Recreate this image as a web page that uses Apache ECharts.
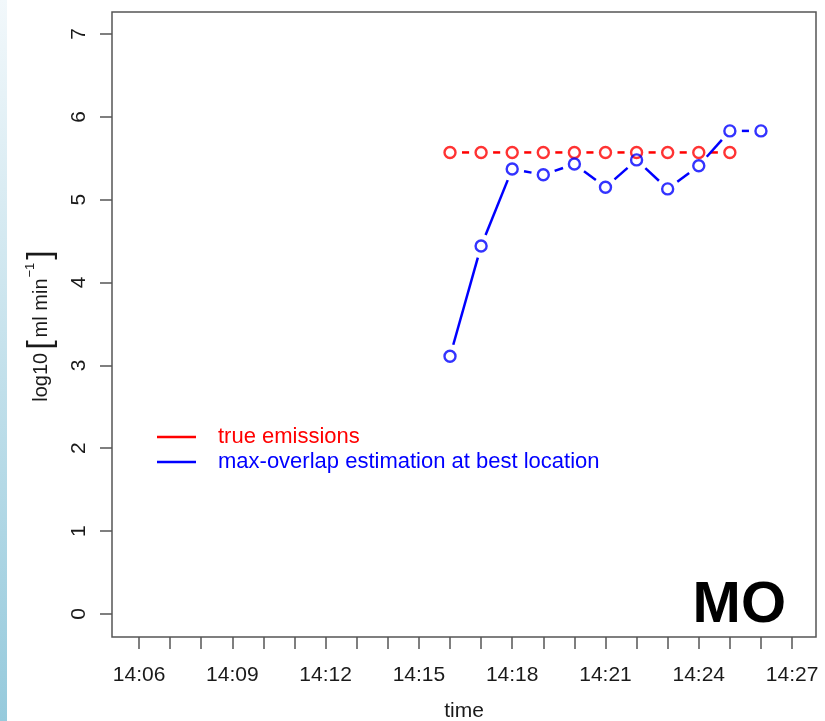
<!DOCTYPE html>
<html>
<head>
<meta charset="utf-8" />
<title>MO emissions</title>
<style>
html, body { margin: 0; padding: 0; background: #fff; }
#chart { width: 825px; height: 721px; }
</style>
</head>
<body>
<div id="chart"></div>
<script src="https://cdn.jsdelivr.net/npm/echarts@6/dist/echarts.min.js"></script>
<script>
// values (log10 ml/min)
var trueTimes = ['14:16','14:17','14:18','14:19','14:20','14:21','14:22','14:23','14:24','14:25'];
var trueValues = [5.57, 5.57, 5.57, 5.57, 5.57, 5.57, 5.57, 5.57, 5.57, 5.57];

var estTimes = ['14:16','14:17','14:18','14:19','14:20','14:21','14:22','14:23','14:24','14:25','14:26'];
var estValues = [3.11, 4.44, 5.37, 5.30, 5.43, 5.15, 5.48, 5.13, 5.41, 5.83, 5.83];

var xTicks = [6,7,8,9,10,11,12,13,14,15,16,17,18,19,20,21,22,23,24,25,26,27];
var xLabels = [6,9,12,15,18,21,24,27];
var yTicks = [0,1,2,3,4,5,6,7];

var FONT = '"Liberation Sans", Arial, sans-serif';

// minutes after 14:00
function toMin(s) {
  var p = s.split(':');
  return (+p[0] - 14) * 60 + (+p[1]);
}
function pts(times, vals) {
  return times.map(function (t, i) { return [toMin(t), vals[i]]; });
}
// segments between consecutive points (R type="b" look)
function segs(times, vals) {
  var out = [];
  for (var i = 0; i < times.length - 1; i++) {
    out.push([toMin(times[i]), vals[i], toMin(times[i + 1]), vals[i + 1]]);
  }
  return out;
}

function gapLine(color) {
  return function (params, api) {
    var a = api.coord([api.value(0), api.value(1)]);
    var b = api.coord([api.value(2), api.value(3)]);
    var dx = b[0] - a[0], dy = b[1] - a[1];
    var len = Math.sqrt(dx * dx + dy * dy);
    var gap = 12;
    if (len <= gap * 2) return null;
    var ux = dx / len, uy = dy / len;
    return {
      type: 'line',
      shape: { x1: a[0] + ux * gap, y1: a[1] + uy * gap, x2: b[0] - ux * gap, y2: b[1] - uy * gap },
      style: { stroke: color, lineWidth: 2.5 }
    };
  };
}

var chart = echarts.init(document.getElementById('chart'));

var option = {
  backgroundColor: '#fff',
  animation: false,
  grid: {
    left: 112, right: 9, top: 12, bottom: 84,
    outerBoundsMode: 'none',
    show: true, borderColor: '#555', borderWidth: 1.5, backgroundColor: 'transparent'
  },
  legend: {
    orient: 'vertical',
    left: 157, top: 426,
    padding: 0,
    itemWidth: 39, itemHeight: 2.5, itemGap: 3,
    icon: 'rect',
    textStyle: { fontFamily: FONT, fontSize: 22, padding: [0, 0, 0, 17] },
    data: [
      { name: 'true emissions', itemStyle: { color: '#ff0000' }, textStyle: { color: '#ff0000' } },
      { name: 'max-overlap estimation at best location', itemStyle: { color: '#0000ff' }, textStyle: { color: '#0000ff' } }
    ]
  },
  xAxis: {
    type: 'value',
    min: 5.13, max: 27.77,
    name: 'time',
    nameLocation: 'middle',
    nameGap: 64,
    nameTextStyle: { fontFamily: FONT, fontSize: 21, color: '#1a1a1a' },
    axisLine: { show: false, onZero: false },
    splitLine: { show: false },
    axisTick: { show: true, length: 12, customValues: xTicks, lineStyle: { color: '#555', width: 1.5 } },
    axisLabel: {
      customValues: xLabels,
      margin: 28,
      fontFamily: FONT, fontSize: 21, color: '#1a1a1a',
      formatter: function (v) { return '14:' + (v < 10 ? '0' : '') + v; }
    }
  },
  yAxis: {
    type: 'value',
    min: -0.278, max: 7.265,
    name: '{a|log10}{b|[}{a|ml min}{s|−1}{b|]}',
    nameLocation: 'middle',
    nameRotate: 90,
    nameGap: 54,
    nameTextStyle: {
      fontFamily: FONT, color: '#1a1a1a',
      rich: {
        a: { fontFamily: FONT, fontSize: 20, color: '#1a1a1a' },
        b: { fontFamily: FONT, fontSize: 34, color: '#1a1a1a', padding: [0, 3, 0, 3] },
        s: { fontFamily: FONT, fontSize: 13, color: '#1a1a1a', verticalAlign: 'top', padding: [0, 0, 14, 1] }
      }
    },
    axisLine: { show: false, onZero: false },
    splitLine: { show: false },
    axisTick: { show: true, length: 12, customValues: yTicks, lineStyle: { color: '#555', width: 1.5 } },
    axisLabel: {
      customValues: yTicks,
      rotate: 90,
      margin: 22,
      fontFamily: FONT, fontSize: 21, color: '#1a1a1a'
    }
  },
  graphic: [
    {
      type: 'rect', left: 0, top: 0, z: -10,
      shape: { width: 7, height: 721 },
      style: {
        fill: new echarts.graphic.LinearGradient(0, 0, 0, 1, [
          { offset: 0, color: '#f2f8fb' },
          { offset: 1, color: '#96cadc' }
        ])
      }
    },
    {
      type: 'text', right: 39, top: 577,
      style: { text: 'MO', font: 'bold 58px ' + FONT, fill: '#000' }
    }
  ],
  series: [
    {
      name: 'true emissions',
      type: 'custom',
      renderItem: gapLine('#ff0000'),
      itemStyle: { color: '#ff0000' },
      encode: { x: [0, 2], y: [1, 3] },
      data: segs(trueTimes, trueValues),
      z: 2
    },
    {
      name: 'true-pts',
      type: 'scatter',
      symbol: 'circle', symbolSize: 11,
      itemStyle: { color: 'rgba(0,0,0,0)', borderColor: '#ff0000', borderWidth: 2.4 },
      data: pts(trueTimes, trueValues),
      z: 3
    },
    {
      name: 'max-overlap estimation at best location',
      type: 'custom',
      renderItem: gapLine('#0000ff'),
      itemStyle: { color: '#0000ff' },
      encode: { x: [0, 2], y: [1, 3] },
      data: segs(estTimes, estValues),
      z: 4
    },
    {
      name: 'est-pts',
      type: 'scatter',
      symbol: 'circle', symbolSize: 11,
      itemStyle: { color: 'rgba(0,0,0,0)', borderColor: '#0000ff', borderWidth: 2.4 },
      data: pts(estTimes, estValues),
      z: 5
    }
  ]
};

chart.setOption(option);
</script>
</body>
</html>
